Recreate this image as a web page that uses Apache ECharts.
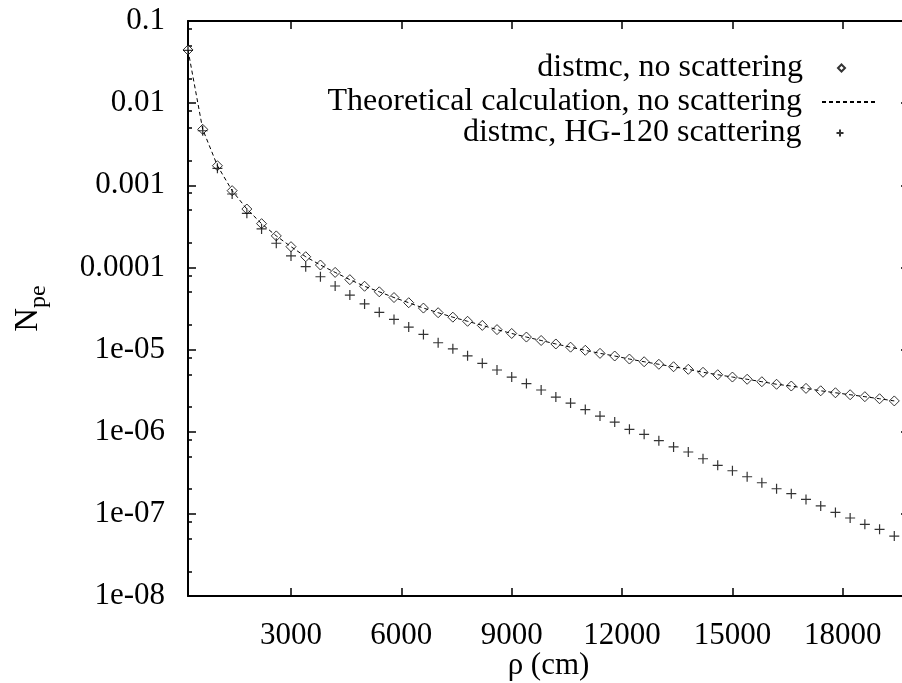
<!DOCTYPE html>
<html>
<head>
<meta charset="utf-8">
<script src="https://cdn.jsdelivr.net/npm/echarts@6/dist/echarts.min.js"></script>
<style>
  html, body { margin: 0; padding: 0; background: #fff; }
  #chart { width: 902px; height: 683px; }
</style>
</head>
<body>
<div id="chart"></div>
<script>
// Radial distance rho (cm) of each sample
const rho = [200, 600, 1000, 1400, 1800, 2200, 2600, 3000, 3400, 3800, 4200,
  4600, 5000, 5400, 5800, 6200, 6600, 7000, 7400, 7800, 8200,
  8600, 9000, 9400, 9800, 10200, 10600, 11000,
  11400, 11800, 12200, 12600, 13000, 13400, 13800, 14200, 14600, 15000,
  15400, 15800, 16200, 16600, 17000, 17400, 17800, 18200, 18600, 19000, 19400];

// distmc, no scattering
const npeNoScatter = [4.44e-2, 4.8e-3, 1.73e-3, 8.6e-4, 5.14e-4, 3.41e-4, 2.42e-4, 1.79e-4, 1.35e-4, 1.07e-4, 8.7e-5,
  7.1e-5, 5.9e-5, 5.05e-5, 4.3e-5, 3.72e-5, 3.2e-5, 2.81e-5, 2.48e-5, 2.21e-5, 1.97e-5,
  1.75e-5, 1.57e-5, 1.42e-5, 1.29e-5, 1.17e-5, 1.07e-5, 9.8e-6,
  8.99e-6, 8.35e-6, 7.67e-6, 7.11e-6, 6.62e-6, 6.18e-6, 5.75e-6, 5.29e-6, 4.94e-6, 4.63e-6,
  4.35e-6, 4.06e-6, 3.78e-6, 3.6e-6, 3.37e-6, 3.15e-6, 2.98e-6, 2.82e-6, 2.67e-6, 2.52e-6, 2.37e-6];

// Theoretical calculation, no scattering
const npeTheory = [4.44e-2, 4.8e-3, 1.73e-3, 8.6e-4, 5.14e-4, 3.41e-4, 2.42e-4, 1.79e-4, 1.35e-4, 1.07e-4, 8.7e-5,
  7.1e-5, 5.9e-5, 5.05e-5, 4.3e-5, 3.72e-5, 3.2e-5, 2.81e-5, 2.48e-5, 2.21e-5, 1.97e-5,
  1.75e-5, 1.57e-5, 1.42e-5, 1.29e-5, 1.17e-5, 1.07e-5, 9.8e-6,
  8.99e-6, 8.35e-6, 7.67e-6, 7.11e-6, 6.62e-6, 6.18e-6, 5.75e-6, 5.29e-6, 4.94e-6, 4.63e-6,
  4.35e-6, 4.06e-6, 3.78e-6, 3.6e-6, 3.37e-6, 3.15e-6, 2.98e-6, 2.82e-6, 2.67e-6, 2.52e-6, 2.37e-6];

// distmc, HG-120 scattering
const npeHG120 = [4.4e-2, 4.61e-3, 1.61e-3, 7.83e-4, 4.56e-4, 2.94e-4, 1.97e-4, 1.38e-4, 1.02e-4, 7.7e-5, 5.94e-5,
  4.61e-5, 3.59e-5, 2.84e-5, 2.33e-5, 1.88e-5, 1.53e-5, 1.21e-5, 1.02e-5, 8.4e-6, 6.8e-6,
  5.64e-6, 4.63e-6, 3.86e-6, 3.22e-6, 2.64e-6, 2.23e-6, 1.86e-6,
  1.55e-6, 1.31e-6, 1.07e-6, 9.3e-7, 7.77e-7, 6.52e-7, 5.66e-7, 4.69e-7, 3.9e-7, 3.35e-7,
  2.83e-7, 2.39e-7, 2.02e-7, 1.76e-7, 1.5e-7, 1.25e-7, 1.04e-7, 8.9e-8, 7.46e-8, 6.48e-8, 5.37e-8];

// Axis ticks
const xTicks = [3000, 6000, 9000, 12000, 15000, 18000];
const yTickLabels = ['1e-08', '1e-07', '1e-06', '1e-05', '0.0001', '0.001', '0.01', '0.1'];
const yMinorTicks = [2e-8, 5e-8, 8e-8, 2e-7, 5e-7, 8e-7, 2e-6, 5e-6, 8e-6, 2e-5, 5e-5, 8e-5,
  2e-4, 5e-4, 8e-4, 2e-3, 5e-3, 8e-3, 2e-2, 5e-2, 8e-2];

const seriesNames = ['distmc, no scattering', 'Theoretical calculation, no scattering', 'distmc, HG-120 scattering'];

const FONT = 'Liberation Serif';
const FS = 31;
const FS_KEY = 32;
const X_MIN = 200, X_MAX = 19800;
const Y_MIN = 1e-8, Y_MAX = 0.1;

const pairs = (xs, ys) => xs.map((x, i) => [x, ys[i]]);
const plusPath = 'path://M0,5L10,5M5,0L5,10';

const chart = echarts.init(document.getElementById('chart'), null, { renderer: 'canvas' });

const keyText = (padRight) => ({ fontFamily: FONT, fontSize: FS_KEY, color: '#000', padding: [0, padRight, 0, 0] });
const legendBase = { orient: 'horizontal', align: 'right', padding: 0, selectedMode: false };

chart.setOption({
  animation: false,
  backgroundColor: '#fff',
  grid: { left: 188, top: 21, width: 721, height: 575, containLabel: false, outerBoundsMode: 'none' },
  legend: [
    Object.assign({}, legendBase, {
      data: [{ name: seriesNames[0], icon: 'diamond' }],
      right: 56, top: 52, itemWidth: 7, itemHeight: 7,
      textStyle: keyText(30)
    }),
    Object.assign({}, legendBase, {
      data: [seriesNames[1]],
      right: 24, top: 86, itemWidth: 55, itemHeight: 7,
      itemStyle: { opacity: 0 },
      textStyle: keyText(15)
    }),
    Object.assign({}, legendBase, {
      data: [{ name: seriesNames[2], icon: plusPath }],
      right: 56, top: 117, itemWidth: 7, itemHeight: 7,
      textStyle: keyText(30)
    })
  ],
  xAxis: [
    {
      type: 'value', position: 'bottom', min: X_MIN, max: X_MAX,
      name: 'ρ (cm)', nameLocation: 'middle', nameGap: 54, nameMoveOverlap: false,
      nameTextStyle: { fontFamily: FONT, fontSize: FS, color: '#000' },
      axisLine: { show: true, lineStyle: { color: '#000', width: 2 } },
      axisTick: { show: true, inside: true, length: 8, customValues: xTicks, lineStyle: { color: '#000', width: 1.5 } },
      axisLabel: {
        show: true, customValues: xTicks, margin: 24, fontFamily: FONT, fontSize: FS, color: '#000',
        formatter: (v) => String(v)
      },
      splitLine: { show: false }
    },
    {
      type: 'value', position: 'top', min: X_MIN, max: X_MAX,
      axisLine: { show: true, lineStyle: { color: '#000', width: 2 } },
      axisTick: { show: true, inside: true, length: 8, customValues: xTicks, lineStyle: { color: '#000', width: 1.5 } },
      axisLabel: { show: false },
      splitLine: { show: false }
    }
  ],
  yAxis: [
    {
      type: 'log', logBase: 10, position: 'left', min: Y_MIN, max: Y_MAX, interval: 1,
      name: '{n|N}{s|pe}', nameLocation: 'middle', nameGap: 143, nameRotate: 90, nameMoveOverlap: false,
      nameTextStyle: {
        fontFamily: FONT, fontSize: 32, color: '#000',
        rich: {
          n: { fontFamily: FONT, fontSize: 33, lineHeight: 33, verticalAlign: 'top', color: '#000' },
          s: { fontFamily: FONT, fontSize: 24, lineHeight: 24, padding: [15, 0, 0, 0], verticalAlign: 'top', color: '#000' }
        }
      },
      axisLine: { show: true, lineStyle: { color: '#000', width: 2 } },
      axisTick: { show: true, inside: true, length: 8, lineStyle: { color: '#000', width: 1.5 } },
      axisLabel: {
        show: true, margin: 23, fontFamily: FONT, fontSize: FS, color: '#000',
        formatter: (v) => yTickLabels[Math.round(Math.log10(v)) + 8]
      },
      splitLine: { show: false },
      minorTick: { show: false }
    },
    {
      type: 'log', logBase: 10, position: 'right', min: Y_MIN, max: Y_MAX, interval: 1,
      axisLine: { show: true, lineStyle: { color: '#000', width: 2 } },
      axisTick: { show: true, inside: true, length: 8, lineStyle: { color: '#000', width: 1.5 } },
      axisLabel: { show: false },
      splitLine: { show: false }
    },
    {
      type: 'log', logBase: 10, position: 'left', min: Y_MIN, max: Y_MAX,
      axisLine: { show: false },
      axisTick: { show: true, inside: true, length: 4, customValues: yMinorTicks, lineStyle: { color: '#000', width: 1.5 } },
      axisLabel: { show: false },
      splitLine: { show: false }
    }
  ],
  series: [
    {
      name: seriesNames[0], type: 'scatter', xAxisIndex: 0, yAxisIndex: 0,
      data: pairs(rho, npeNoScatter),
      symbol: 'diamond', symbolSize: 10, symbolKeepAspect: true,
      itemStyle: { color: '#fff', borderColor: '#000', borderWidth: 1 },
      emphasis: { disabled: true }, z: 2
    },
    {
      name: seriesNames[1], type: 'line', xAxisIndex: 0, yAxisIndex: 0,
      data: pairs(rho, npeTheory),
      symbol: 'none', showSymbol: false,
      lineStyle: { color: '#000', width: 1, type: [4, 3] },
      itemStyle: { color: '#000' },
      emphasis: { disabled: true }, z: 3
    },
    {
      name: seriesNames[2], type: 'scatter', xAxisIndex: 0, yAxisIndex: 0,
      data: pairs(rho, npeHG120),
      symbol: plusPath, symbolSize: 10, symbolKeepAspect: true,
      itemStyle: { color: 'none', borderColor: '#000', borderWidth: 1.2 },
      emphasis: { disabled: true }, z: 4
    }
  ]
});
</script>
</body>
</html>
